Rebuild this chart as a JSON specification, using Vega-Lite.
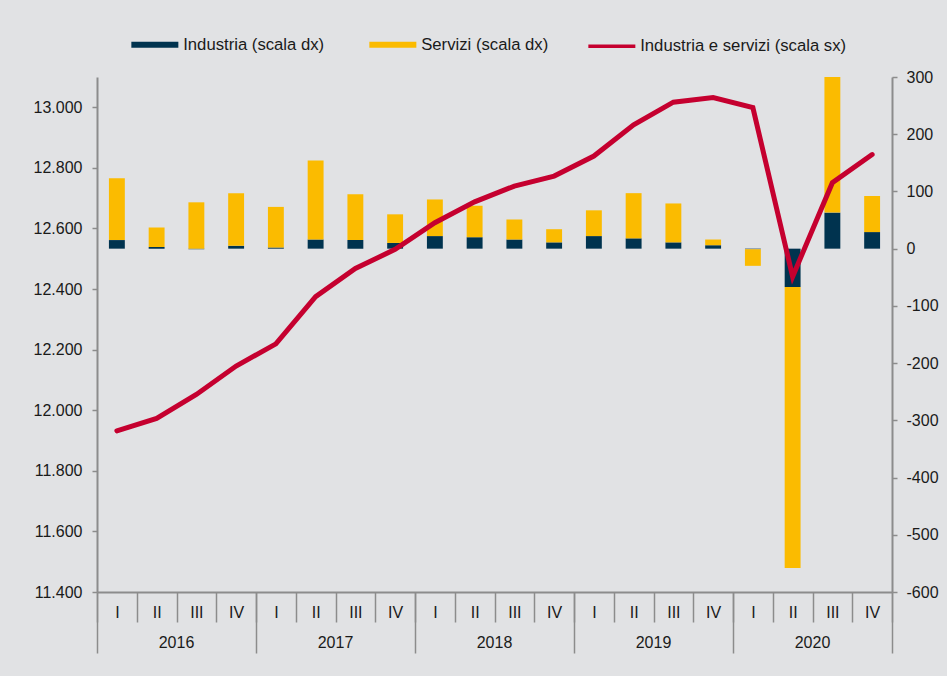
{
  "$schema": "https://vega.github.io/schema/vega-lite/v6.json",
  "width": 795,
  "height": 515,
  "autosize": {"type": "none"},
  "padding": {"left": 97, "top": 77, "right": 55, "bottom": 84},
  "background": "#e1e2e4",
  "datasets": {
    "barre": [
      {"periodo": "2016 I", "serie": "Industria (scala dx)", "valore": 15},
      {"periodo": "2016 I", "serie": "Servizi (scala dx)", "valore": 108},
      {"periodo": "2016 II", "serie": "Industria (scala dx)", "valore": 3},
      {"periodo": "2016 II", "serie": "Servizi (scala dx)", "valore": 34},
      {"periodo": "2016 III", "serie": "Industria (scala dx)", "valore": -1},
      {"periodo": "2016 III", "serie": "Servizi (scala dx)", "valore": 81},
      {"periodo": "2016 IV", "serie": "Industria (scala dx)", "valore": 5},
      {"periodo": "2016 IV", "serie": "Servizi (scala dx)", "valore": 92},
      {"periodo": "2017 I", "serie": "Industria (scala dx)", "valore": 2},
      {"periodo": "2017 I", "serie": "Servizi (scala dx)", "valore": 71},
      {"periodo": "2017 II", "serie": "Industria (scala dx)", "valore": 16},
      {"periodo": "2017 II", "serie": "Servizi (scala dx)", "valore": 138},
      {"periodo": "2017 III", "serie": "Industria (scala dx)", "valore": 15},
      {"periodo": "2017 III", "serie": "Servizi (scala dx)", "valore": 80},
      {"periodo": "2017 IV", "serie": "Industria (scala dx)", "valore": 10},
      {"periodo": "2017 IV", "serie": "Servizi (scala dx)", "valore": 50},
      {"periodo": "2018 I", "serie": "Industria (scala dx)", "valore": 22},
      {"periodo": "2018 I", "serie": "Servizi (scala dx)", "valore": 64},
      {"periodo": "2018 II", "serie": "Industria (scala dx)", "valore": 20},
      {"periodo": "2018 II", "serie": "Servizi (scala dx)", "valore": 55},
      {"periodo": "2018 III", "serie": "Industria (scala dx)", "valore": 16},
      {"periodo": "2018 III", "serie": "Servizi (scala dx)", "valore": 35},
      {"periodo": "2018 IV", "serie": "Industria (scala dx)", "valore": 11},
      {"periodo": "2018 IV", "serie": "Servizi (scala dx)", "valore": 23},
      {"periodo": "2019 I", "serie": "Industria (scala dx)", "valore": 22},
      {"periodo": "2019 I", "serie": "Servizi (scala dx)", "valore": 45},
      {"periodo": "2019 II", "serie": "Industria (scala dx)", "valore": 18},
      {"periodo": "2019 II", "serie": "Servizi (scala dx)", "valore": 79},
      {"periodo": "2019 III", "serie": "Industria (scala dx)", "valore": 11},
      {"periodo": "2019 III", "serie": "Servizi (scala dx)", "valore": 68},
      {"periodo": "2019 IV", "serie": "Industria (scala dx)", "valore": 6},
      {"periodo": "2019 IV", "serie": "Servizi (scala dx)", "valore": 10},
      {"periodo": "2020 I", "serie": "Industria (scala dx)", "valore": -1},
      {"periodo": "2020 I", "serie": "Servizi (scala dx)", "valore": -29},
      {"periodo": "2020 II", "serie": "Industria (scala dx)", "valore": -67},
      {"periodo": "2020 II", "serie": "Servizi (scala dx)", "valore": -491},
      {"periodo": "2020 III", "serie": "Industria (scala dx)", "valore": 63},
      {"periodo": "2020 III", "serie": "Servizi (scala dx)", "valore": 237},
      {"periodo": "2020 IV", "serie": "Industria (scala dx)", "valore": 29},
      {"periodo": "2020 IV", "serie": "Servizi (scala dx)", "valore": 63}
    ],
    "linea": [
      {"periodo": "2016 I", "serie": "Industria e servizi (scala sx)", "valore": 11932},
      {"periodo": "2016 II", "serie": "Industria e servizi (scala sx)", "valore": 11973},
      {"periodo": "2016 III", "serie": "Industria e servizi (scala sx)", "valore": 12052},
      {"periodo": "2016 IV", "serie": "Industria e servizi (scala sx)", "valore": 12146},
      {"periodo": "2017 I", "serie": "Industria e servizi (scala sx)", "valore": 12219},
      {"periodo": "2017 II", "serie": "Industria e servizi (scala sx)", "valore": 12375},
      {"periodo": "2017 III", "serie": "Industria e servizi (scala sx)", "valore": 12468},
      {"periodo": "2017 IV", "serie": "Industria e servizi (scala sx)", "valore": 12531},
      {"periodo": "2018 I", "serie": "Industria e servizi (scala sx)", "valore": 12619},
      {"periodo": "2018 II", "serie": "Industria e servizi (scala sx)", "valore": 12688},
      {"periodo": "2018 III", "serie": "Industria e servizi (scala sx)", "valore": 12740},
      {"periodo": "2018 IV", "serie": "Industria e servizi (scala sx)", "valore": 12773},
      {"periodo": "2019 I", "serie": "Industria e servizi (scala sx)", "valore": 12839},
      {"periodo": "2019 II", "serie": "Industria e servizi (scala sx)", "valore": 12942},
      {"periodo": "2019 III", "serie": "Industria e servizi (scala sx)", "valore": 13017},
      {"periodo": "2019 IV", "serie": "Industria e servizi (scala sx)", "valore": 13032},
      {"periodo": "2020 I", "serie": "Industria e servizi (scala sx)", "valore": 12999},
      {"periodo": "2020 II", "serie": "Industria e servizi (scala sx)", "valore": 12441},
      {"periodo": "2020 III", "serie": "Industria e servizi (scala sx)", "valore": 12751},
      {"periodo": "2020 IV", "serie": "Industria e servizi (scala sx)", "valore": 12844}
    ]
  },
  "layer": [
    {
      "data": {"name": "barre"},
      "mark": {"type": "bar", "width": {"band": 0.4}},
      "encoding": {
        "x": {
          "field": "periodo",
          "type": "nominal",
          "scale": {"paddingInner": 0, "paddingOuter": 0},
          "axis": {
            "orient": "bottom",
            "title": null,
            "labelExpr": "datum.value ? split(datum.value, ' ')[1] : ''",
            "tickBand": "extent",
            "tickSize": 30,
            "tickWidth": 1.5,
            "domain": true,
            "domainWidth": 2,
            "labelAngle": 0,
            "labelBaseline": "top",
            "labelPadding": -18,
            "labelOverlap": false
          }
        },
        "y": {
          "field": "valore",
          "type": "quantitative",
          "stack": "zero",
          "scale": {"domain": [-600, 300], "nice": false, "zero": false},
          "axis": {
            "orient": "right",
            "title": null,
            "values": [-600, -500, -400, -300, -200, -100, 0, 100, 200, 300],
            "format": "d",
            "tickSize": 5,
            "tickWidth": 1.5,
            "labelPadding": 9,
            "domainWidth": 2
          }
        },
        "order": {"field": "serie", "type": "nominal", "sort": "ascending"},
        "color": {
          "field": "serie",
          "type": "nominal",
          "scale": {
            "domain": ["Industria (scala dx)", "Servizi (scala dx)", "Industria e servizi (scala sx)"],
            "range": ["#00334f", "#fbbb00", "#c5002f"]
          },
          "legend": {
            "orient": "none",
            "legendX": 49.5,
            "legendY": -41,
            "direction": "horizontal",
            "columns": 3,
            "title": null,
            "padding": 0,
            "columnPadding": 32,
            "labelOffset": 20,
            "labelLimit": 400,
            "labelFont": "Liberation Sans",
            "labelFontSize": 16.7,
            "labelColor": "#1a1a1a",
            "symbolType": "stroke",
            "symbolSize": 2209,
            "symbolStrokeWidth": 6,
            "encode": {
              "symbols": {
                "update": {
                  "stroke": {"scale": "color", "field": "value"},
                  "fill": {"value": "transparent"},
                  "strokeWidth": {"signal": "datum.value === 'Industria e servizi (scala sx)' ? 3.5 : 6"}
                }
              }
            }
          }
        }
      }
    },
    {
      "data": {"name": "linea"},
      "mark": {"type": "line", "strokeWidth": 5, "strokeCap": "round", "strokeJoin": "miter"},
      "encoding": {
        "x": {
          "field": "periodo",
          "type": "nominal",
          "axis": {
            "orient": "bottom",
            "title": null,
            "values": ["2016 I", "2017 I", "2018 I", "2019 I", "2020 I"],
            "labelExpr": "datum.value ? split(datum.value, ' ')[0] : ''",
            "bandPosition": 4,
            "tickExtra": true,
            "tickSize": 61,
            "tickWidth": 1.5,
            "domain": false,
            "labelAngle": 0,
            "labelOffset": 59.625,
            "labelBaseline": "top",
            "labelPadding": -19,
            "labelOverlap": false
          }
        },
        "y": {
          "field": "valore",
          "type": "quantitative",
          "scale": {"domain": [11400, 13100], "nice": false, "zero": false},
          "axis": {
            "orient": "left",
            "title": null,
            "values": [11400, 11600, 11800, 12000, 12200, 12400, 12600, 12800, 13000],
            "format": ",d",
            "tickSize": 5,
            "tickWidth": 1.5,
            "labelPadding": 10,
            "domainWidth": 2
          }
        },
        "color": {"field": "serie", "type": "nominal"}
      }
    }
  ],
  "resolve": {
    "scale": {"y": "independent"},
    "axis": {"x": "independent", "y": "independent"}
  },
  "config": {
    "font": "Liberation Sans",
    "view": {"stroke": null},
    "axis": {
      "labelFont": "Liberation Sans",
      "labelFontSize": 16,
      "labelColor": "#1a1a1a",
      "domainColor": "#8c8c8c",
      "tickColor": "#8c8c8c",
      "grid": false
    },
    "locale": {
      "number": {
        "decimal": ",",
        "thousands": ".",
        "grouping": [3],
        "currency": ["€", ""],
        "minus": "-"
      }
    }
  }
}
